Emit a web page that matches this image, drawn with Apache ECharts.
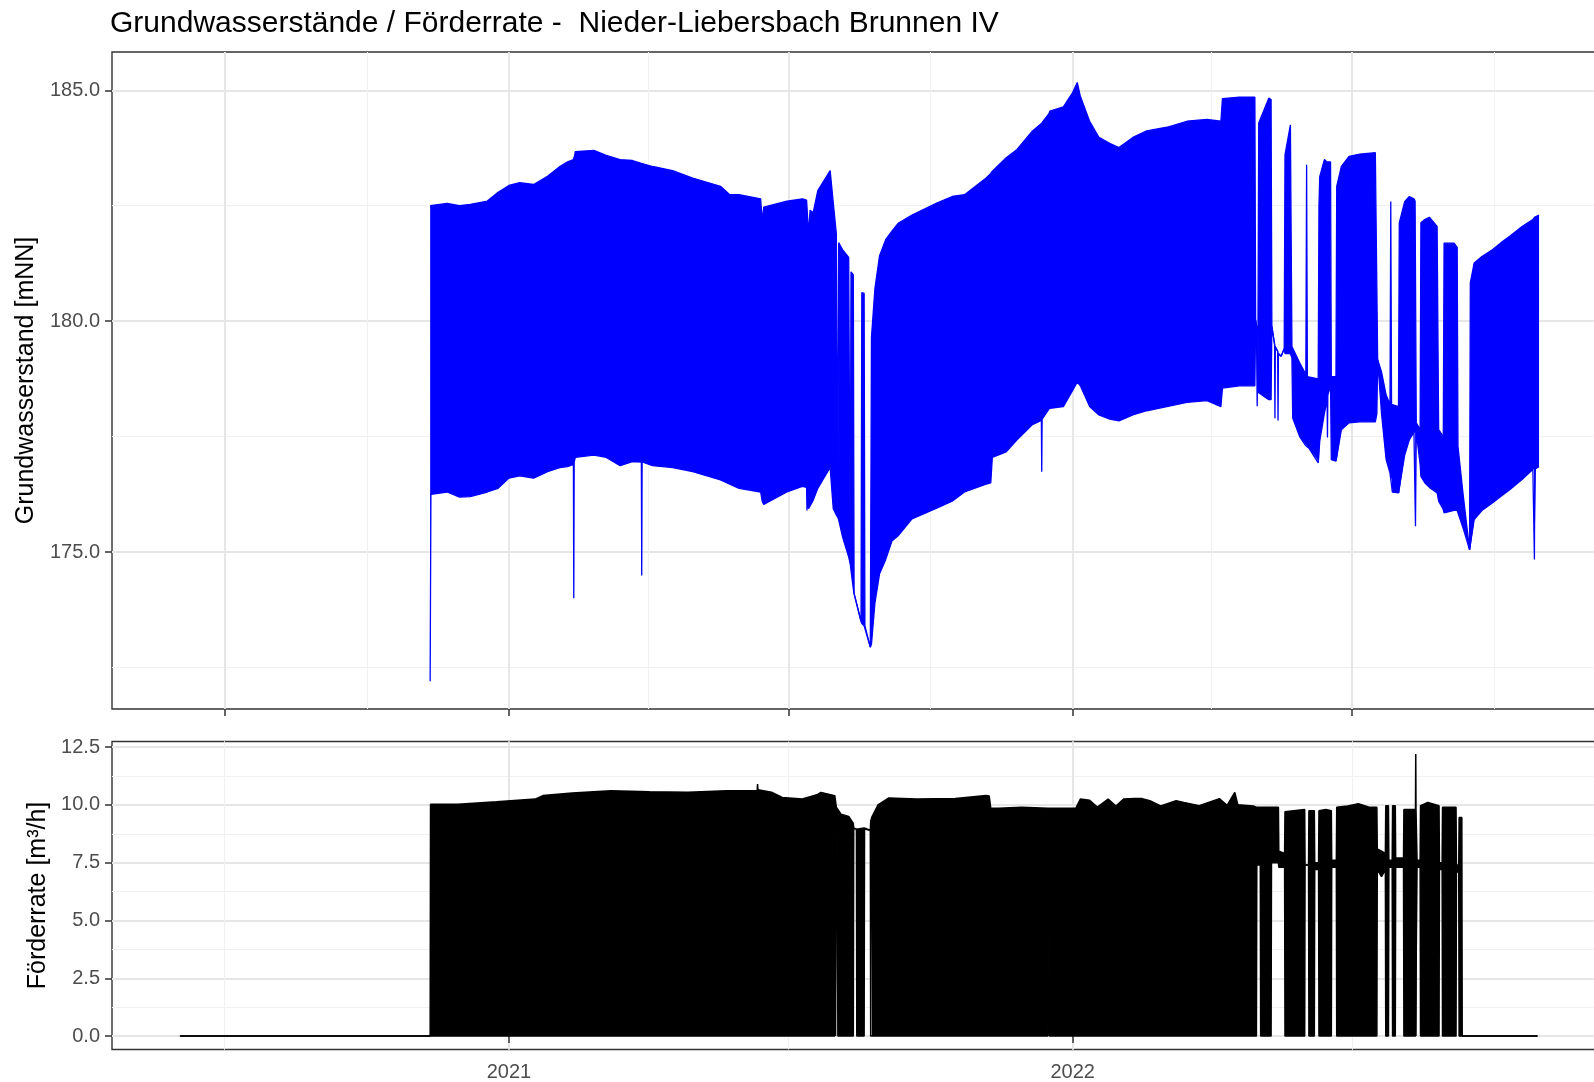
<!DOCTYPE html>
<html><head><meta charset="utf-8">
<script src="https://cdn.jsdelivr.net/npm/echarts@6/dist/echarts.min.js"></script>
<style>html,body{margin:0;padding:0;background:#fff}#c{width:1594px;height:1082px}</style>
</head><body><div id="c"></div>
<script>
// ---------- Data ----------
const titleText = 'Grundwasserstände / Förderrate -  Nieder-Liebersbach Brunnen IV';
const levelAxisName = 'Grundwasserstand [mNN]';
const rateAxisName = 'Förderrate [m³/h]';

// Groundwater level: envelope of the daily oscillation (upper / lower values)
const levelDates = [
'2020-11-11 00:00','2020-11-11 12:00','2020-11-22','2020-11-30','2020-12-07','2020-12-18','2020-12-25','2021-01-01','2021-01-08','2021-01-17',
'2021-01-26','2021-02-03','2021-02-08','2021-02-11 18:00','2021-02-12 00:00','2021-02-12 06:00','2021-02-13','2021-02-25','2021-03-05','2021-03-14',
'2021-03-22','2021-03-27 18:00','2021-03-28 00:00','2021-03-28 06:00','2021-04-04','2021-04-17','2021-04-30','2021-05-18','2021-05-24','2021-05-30',
'2021-06-13','2021-06-14','2021-06-15','2021-06-30','2021-07-10','2021-07-12 18:00','2021-07-13 00:00','2021-07-13 06:00','2021-07-14','2021-07-15',
'2021-07-17','2021-07-20','2021-07-28','2021-07-30','2021-08-01','2021-08-02 00:00','2021-08-02 12:00','2021-08-05','2021-08-09','2021-08-10 00:00',
'2021-08-10 12:00','2021-08-12 00:00','2021-08-12 12:00','2021-08-17 00:00','2021-08-17 12:00','2021-08-19 00:00','2021-08-19 12:00','2021-08-23 00:00','2021-08-23 18:00','2021-08-26',
'2021-08-29','2021-09-02','2021-09-06','2021-09-10','2021-09-19','2021-10-05','2021-10-15','2021-10-23','2021-11-06','2021-11-09',
'2021-11-10','2021-11-19','2021-11-26','2021-12-06','2021-12-11 18:00','2021-12-12 00:00','2021-12-12 06:00','2021-12-16 18:00','2021-12-17 00:00','2021-12-17 06:00',
'2021-12-26','2022-01-01','2022-01-04','2022-01-06','2022-01-12','2022-01-18','2022-01-25','2022-01-31','2022-02-09','2022-02-18',
'2022-03-03','2022-03-16','2022-03-29','2022-04-07','2022-04-08','2022-04-19','2022-04-29 00:00','2022-04-29 12:00','2022-04-30 00:00','2022-04-30 12:00',
'2022-05-01 00:00','2022-05-01 12:00','2022-05-08','2022-05-09 12:00','2022-05-10 00:00','2022-05-11 18:00','2022-05-12 00:00','2022-05-12 06:00','2022-05-13 18:00','2022-05-14 00:00',
'2022-05-14 06:00','2022-05-16','2022-05-18 00:00','2022-05-18 12:00','2022-05-22','2022-05-23 00:00','2022-05-23 12:00','2022-05-28','2022-06-01 00:00','2022-06-01 12:00',
'2022-06-02 00:00','2022-06-03','2022-06-09 00:00','2022-06-09 12:00','2022-06-10','2022-06-13','2022-06-14 18:00','2022-06-15 00:00','2022-06-15 06:00','2022-06-17 00:00',
'2022-06-17 12:00','2022-06-20 12:00','2022-06-21 00:00','2022-06-24','2022-06-29','2022-07-06','2022-07-16','2022-07-17 00:00','2022-07-17 12:00','2022-07-20',
'2022-07-23','2022-07-25 12:00','2022-07-26 00:00','2022-07-26 12:00','2022-07-27','2022-07-31 00:00','2022-07-31 12:00','2022-08-04','2022-08-07','2022-08-10',
'2022-08-10 18:00','2022-08-11 00:00','2022-08-11 12:00','2022-08-14 00:00','2022-08-14 12:00','2022-08-17','2022-08-20','2022-08-25','2022-08-26 00:00','2022-08-29 00:00',
'2022-08-29 12:00','2022-09-05','2022-09-07 00:00','2022-09-07 12:00','2022-09-11','2022-09-15 00:00','2022-09-15 12:00','2022-09-18','2022-09-23','2022-09-30',
'2022-10-05','2022-10-11','2022-10-19','2022-10-26','2022-10-26 18:00','2022-10-27 00:00','2022-10-27 06:00','2022-10-28','2022-10-30'];
const levelHigh = [
182.5,182.5,182.55,182.5,182.53,182.6,182.79,182.94,183.0,182.96,
183.14,183.35,183.45,183.5,183.5,183.55,183.67,183.7,183.59,183.5,
183.48,183.42,183.4,183.4,183.35,183.26,183.1,182.92,182.74,182.74,
182.65,182.17,182.47,182.6,182.65,182.62,182.6,182.6,181.9,182.4,
182.35,182.83,183.26,182.57,181.9,175.75,181.7,181.55,181.38,174.75,
181.07,181.0,174.1,173.5,180.62,180.6,173.4,172.94,179.65,180.71,
181.42,181.77,181.95,182.12,182.3,182.56,182.7,182.74,183.1,183.2,
183.25,183.54,183.72,184.12,184.28,184.3,184.3,184.5,184.5,184.55,
184.64,184.95,185.17,184.87,184.33,183.98,183.85,183.76,183.98,184.12,
184.2,184.33,184.37,184.33,184.82,184.85,184.85,180.03,179.9,179.86,
179.8,184.29,184.83,184.8,179.89,179.5,179.45,179.45,179.35,179.3,
179.3,179.24,179.4,183.6,184.25,179.45,179.45,179.1,178.85,183.39,
178.8,178.8,178.75,182.5,183.13,183.5,183.45,183.45,183.45,183.45,
178.8,178.8,182.92,183.35,183.57,183.62,183.65,183.67,179.17,178.9,
178.4,178.2,182.59,178.2,178.2,178.15,182.13,182.59,182.7,182.65,
182.6,182.6,177.8,177.65,182.13,182.2,182.25,182.05,177.65,177.5,
181.69,181.69,181.6,177.29,176.2,175.05,180.83,181.26,181.4,181.55,
181.69,181.84,182.05,182.2,182.22,182.25,182.25,182.27,182.3];
const levelLow = [
172.2,176.25,176.3,176.19,176.2,176.3,176.38,176.6,176.65,176.6,
176.74,176.83,176.85,176.9,174.0,176.95,177.05,177.1,177.05,176.87,
176.96,176.95,174.49,176.95,176.87,176.83,176.74,176.56,176.47,176.38,
176.3,176.1,176.03,176.3,176.42,176.4,175.9,176.2,175.94,176.0,
176.12,176.38,176.83,175.94,175.8,175.75,175.7,175.33,174.89,174.75,
174.6,174.2,174.1,173.5,173.45,173.4,173.4,172.94,173.0,173.9,
174.53,174.84,175.24,175.35,175.72,175.95,176.1,176.3,176.47,176.5,
177.05,177.17,177.43,177.76,177.85,176.74,177.88,178.1,179.56,178.11,
178.15,178.5,178.68,178.6,178.15,177.97,177.88,177.84,177.97,178.06,
178.15,178.24,178.28,178.15,178.55,178.6,178.6,180.03,179.9,178.16,
179.8,178.45,178.3,178.3,179.89,179.5,177.9,179.45,179.35,177.85,
179.3,179.24,179.4,179.3,179.3,179.2,177.9,177.5,177.3,177.3,
177.29,177.25,176.93,176.95,177.4,178.0,178.3,177.48,178.4,178.6,
177.0,176.97,176.97,177.65,177.8,177.82,177.82,178.0,179.17,178.0,
177.0,176.71,176.57,176.57,176.3,176.28,176.28,177.1,177.43,177.6,
177.6,175.56,177.6,176.9,176.64,176.5,176.4,176.28,176.1,175.92,
175.85,175.9,175.9,175.85,175.5,175.05,175.05,175.7,175.9,176.07,
176.2,176.35,176.57,176.79,176.8,174.84,176.8,176.8,176.85];

// Pumping rate: envelope (upper / lower values)
const rateDates = [
'2020-06-02','2020-11-11 00:00','2020-11-11 06:00','2020-11-29','2020-12-24','2021-01-18','2021-01-23','2021-02-11','2021-03-08','2021-04-02',
'2021-04-27','2021-05-22','2021-06-10 18:00','2021-06-11 00:00','2021-06-11 06:00','2021-06-20','2021-06-27','2021-07-10','2021-07-20','2021-07-22',
'2021-07-31','2021-08-01 00:00','2021-08-01 12:00','2021-08-02 00:00','2021-08-04','2021-08-09','2021-08-12 00:00','2021-08-12 06:00','2021-08-14 00:00','2021-08-14 06:00',
'2021-08-19 00:00','2021-08-19 06:00','2021-08-23 00:00','2021-08-23 06:00','2021-08-24','2021-08-28','2021-09-04','2021-09-22','2021-10-17','2021-11-06',
'2021-11-08','2021-11-09','2021-11-14','2021-11-29','2021-12-16 00:00','2021-12-16 12:00','2021-12-17 00:00','2022-01-03','2022-01-06','2022-01-12',
'2022-01-17','2022-01-24','2022-01-29','2022-02-03','2022-02-10','2022-02-15','2022-02-20','2022-02-27','2022-03-09','2022-03-14',
'2022-03-24','2022-04-06','2022-04-11','2022-04-16','2022-04-18','2022-04-28','2022-04-30 00:00','2022-04-30 06:00','2022-05-02 12:00','2022-05-02 18:00',
'2022-05-09 12:00','2022-05-09 18:00','2022-05-14 06:00','2022-05-14 12:00','2022-05-18 06:00','2022-05-18 12:00','2022-05-31 06:00','2022-05-31 12:00','2022-06-02 18:00','2022-06-03 00:00',
'2022-06-06 12:00','2022-06-06 18:00','2022-06-09 06:00','2022-06-09 12:00','2022-06-14','2022-06-17 12:00','2022-06-17 18:00','2022-06-20 18:00','2022-06-21 00:00','2022-06-28',
'2022-07-05','2022-07-12','2022-07-17 00:00','2022-07-17 06:00','2022-07-20','2022-07-22 12:00','2022-07-22 18:00','2022-07-24 12:00','2022-07-24 18:00','2022-07-26 22:00',
'2022-07-27 04:00','2022-07-28 22:00','2022-07-29 04:00','2022-08-03 06:00','2022-08-03 12:00','2022-08-11 00:00','2022-08-11 04:00','2022-08-11 08:00','2022-08-11 18:00','2022-08-12 00:00',
'2022-08-14 00:00','2022-08-14 06:00','2022-08-19','2022-08-26 06:00','2022-08-26 12:00','2022-08-28 06:00','2022-08-28 12:00','2022-09-06 06:00','2022-09-06 12:00','2022-09-08 00:00',
'2022-09-08 06:00','2022-09-10 00:00','2022-09-10 06:00','2022-10-29'];
const rateHigh = [
0,0,10.03,10.03,10.13,10.25,10.4,10.51,10.61,10.57,
10.54,10.61,10.62,10.9,10.65,10.55,10.32,10.25,10.45,10.54,
10.4,9.9,9.9,9.9,9.6,9.5,9.2,9.0,8.95,9.0,
9.0,8.95,8.9,9.3,9.47,10.0,10.3,10.25,10.28,10.4,
10.38,9.85,9.85,9.9,9.85,9.85,9.85,9.85,10.25,10.2,
9.9,10.25,9.95,10.25,10.27,10.27,10.18,9.95,10.18,10.1,
9.96,10.27,9.98,10.54,10.0,9.95,9.9,9.9,9.9,9.9,
9.9,9.9,9.9,8.0,7.9,9.7,9.8,7.4,7.4,9.75,
9.75,7.5,7.5,9.75,9.8,9.75,7.6,7.6,9.9,9.95,
10.05,9.9,9.9,8.1,8.0,7.9,9.96,9.96,7.6,7.6,
9.96,9.96,7.7,7.7,9.8,9.8,12.2,9.8,9.8,7.6,
7.6,9.96,10.1,9.96,7.5,7.5,9.9,9.9,7.4,7.4,
9.45,9.45,0,0];
const rateLow = [
0,0,0,0,0,0,0,0,0,0,
0,0,0,0,0,0,0,0,0,0,
0,0,9.1,0,0,0,0,8.98,8.95,0,
0,8.95,8.9,0,0,0,0,0,0,0,
0,0,0,0,0,7.8,0,0,0,0,
0,0,0,0,0,0,0,0,0,0,
0,0,0,0,0,0,0,7.4,7.4,0,
0,7.5,7.5,7.3,7.3,0,0,7.4,7.4,0,
0,7.2,7.2,0,0,0,7.3,7.3,0,0,
0,0,0,7.2,6.9,7.2,0,0,7.3,7.3,
0,0,7.3,7.3,0,0,0,0,0,7.3,
7.3,0,0,0,7.2,7.2,0,0,7.1,7.1,
0,0,0,0];

// Axis ticks
const levelTicks = [175, 180, 185];
const levelMinorTicks = [172.5, 177.5, 182.5];
const rateTicks = [0, 2.5, 5, 7.5, 10, 12.5];
const rateMinorTicks = [1.25, 3.75, 6.25, 8.75, 11.25];
const topDateTicks = ['2020-07-01','2021-01-01','2021-07-01','2022-01-01','2022-07-01'];
const topDateMinorTicks = ['2020-10-01','2021-04-01','2021-10-01','2022-04-01','2022-10-01'];
const bottomDateTicks = ['2021-01-01','2022-01-01'];
const bottomDateMinorTicks = ['2020-07-01','2021-07-01','2022-07-01'];
const dateMin = '2020-04-19';
const dateMax = '2022-12-13';

// ---------- Chart ----------
const FONT = '"Liberation Sans", Arial, sans-serif';
const MAJOR = '#e6e6e6', MINOR = '#f1f1f1', DARK = '#333333', LABEL = '#4d4d4d';
const chart = echarts.init(document.getElementById('c'), null, {renderer: 'canvas'});

function xAx(grid, ticks, minor, pos, labels) {
  return {
    type: 'time', gridIndex: grid, min: dateMin, max: dateMax, position: pos,
    axisLine: {show: false},
    axisTick: {show: !minor, customValues: ticks, length: 7, lineStyle: {color: DARK, width: 1.5}},
    axisLabel: {show: !!labels, customValues: ticks, formatter: '{yyyy}', color: LABEL, fontSize: 20, fontFamily: FONT, margin: 13},
    splitLine: {show: true, lineStyle: {color: minor ? MINOR : MAJOR, width: minor ? 1 : 1.8}},
    minorSplitLine: {show: false}
  };
}
function yAx(grid, ticks, minor, pos, min, max, name, gap) {
  const o = {
    type: 'value', gridIndex: grid, min: min, max: max, position: pos,
    axisLine: {show: false},
    axisTick: {show: !minor, customValues: ticks, length: 7, lineStyle: {color: DARK, width: 1.5}},
    axisLabel: {show: !minor, customValues: ticks, formatter: v => v.toFixed(1), color: LABEL, fontSize: 20, fontFamily: FONT, margin: 12},
    splitLine: {show: true, lineStyle: {color: minor ? MINOR : MAJOR, width: minor ? 1 : 1.8}}
  };
  if (name) {
    o.name = name; o.nameLocation = 'middle'; o.nameGap = gap;
    o.nameTextStyle = {fontSize: 25, color: '#000', fontFamily: FONT};
  }
  return o;
}
function pairs(dates, vals) { return dates.map((d, i) => [d, vals[i]]); }
const levelBand = levelHigh.map((h, i) => +(h - levelLow[i]).toFixed(3));
const rateBand = rateHigh.map((h, i) => +(h - rateLow[i]).toFixed(3));

chart.setOption({
  animation: false,
  backgroundColor: '#fff',
  title: {text: titleText, left: 110, top: 9, padding: 0,
    textStyle: {fontSize: 30, fontWeight: 'normal', color: '#000', fontFamily: FONT}},
  grid: [
    {left: 112, top: 52, width: 1495, height: 657, show: true, borderColor: DARK, borderWidth: 1.4, backgroundColor: 'transparent', outerBoundsMode: 'none'},
    {left: 112, top: 741.5, width: 1495, height: 308, show: true, borderColor: DARK, borderWidth: 1.4, backgroundColor: 'transparent', outerBoundsMode: 'none'}
  ],
  xAxis: [
    xAx(0, topDateTicks, false, 'bottom', false),
    xAx(0, topDateMinorTicks, true, 'top', false),
    xAx(1, bottomDateTicks, false, 'bottom', true),
    xAx(1, bottomDateMinorTicks, true, 'top', false)
  ],
  yAxis: [
    yAx(0, levelTicks, false, 'left', 171.6, 185.83, levelAxisName, 67),
    yAx(0, levelMinorTicks, true, 'right', 171.6, 185.83),
    yAx(1, rateTicks, false, 'left', -0.58, 12.74, rateAxisName, 55),
    yAx(1, rateMinorTicks, true, 'right', -0.58, 12.74)
  ],
  series: [
    {type: 'line', name: 'level-low', xAxisIndex: 0, yAxisIndex: 0, stack: 'level', symbol: 'none',
     data: pairs(levelDates, levelLow), lineStyle: {color: '#0000ff', width: 1.3}, z: 3},
    {type: 'line', name: 'level-band', xAxisIndex: 0, yAxisIndex: 0, stack: 'level', symbol: 'none',
     data: pairs(levelDates, levelBand), lineStyle: {color: '#0000ff', width: 1.3},
     areaStyle: {color: '#0000ff', opacity: 1}, z: 3},
    {type: 'line', name: 'rate-low', xAxisIndex: 2, yAxisIndex: 2, stack: 'rate', symbol: 'none',
     data: pairs(rateDates, rateLow), lineStyle: {color: '#000', width: 1.5}, z: 3},
    {type: 'line', name: 'rate-band', xAxisIndex: 2, yAxisIndex: 2, stack: 'rate', symbol: 'none',
     data: pairs(rateDates, rateBand), lineStyle: {color: '#000', width: 1.5},
     areaStyle: {color: '#000', opacity: 1}, z: 3}
  ]
});
</script>
</body></html>
